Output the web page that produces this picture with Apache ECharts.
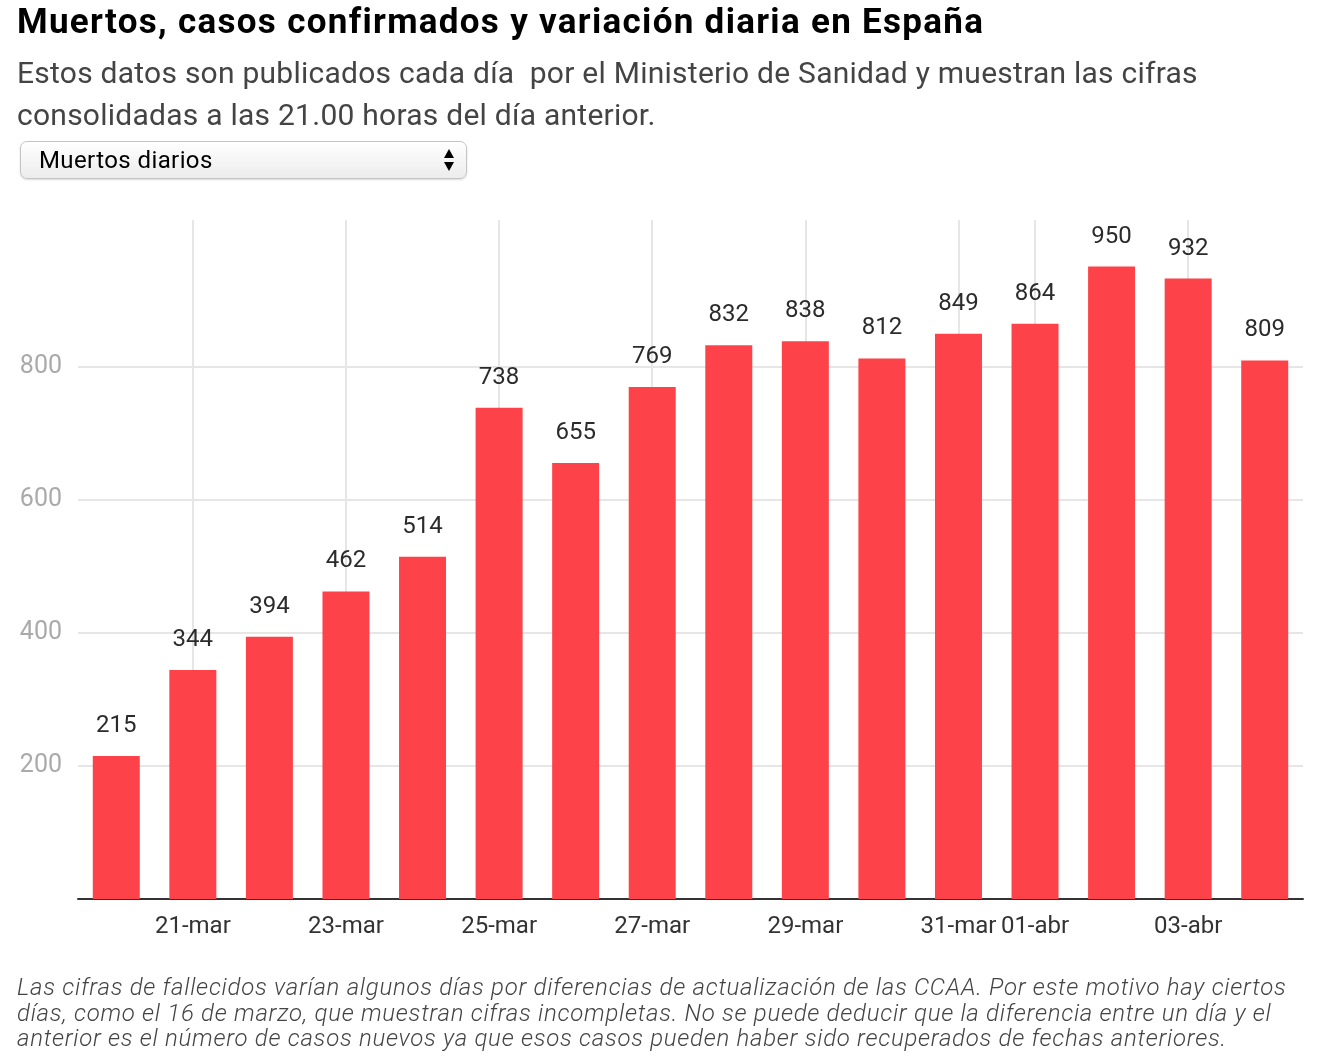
<!DOCTYPE html>
<html>
<head>
<meta charset="utf-8">
<script src="https://cdn.jsdelivr.net/npm/echarts@6/dist/echarts.min.js"></script>
<style>
  html, body { margin: 0; padding: 0; background: #fff; }
  body { width: 1320px; height: 1062px; position: relative; overflow: hidden; font-family: Roboto, "Noto Sans", sans-serif; }
  #chart { position: absolute; left: 0; top: 0; width: 1320px; height: 1062px; }
  .txt { position: absolute; left: 17px; white-space: nowrap; z-index: 2; }
  #title { top: 4px; font-size: 35px; line-height: 35px; font-weight: 700; color: #000; letter-spacing: 1.3px; }
  #subtitle { top: 52px; font-size: 30px; line-height: 42px; color: #444; font-weight: 400; letter-spacing: 0.25px; }
  #note { top: 975px; font-size: 24px; line-height: 25.5px; color: #444; font-style: italic; font-weight: 300; letter-spacing: 0.72px; }
  #select {
    position: absolute; left: 20px; top: 141px; width: 445px; height: 36px; z-index: 2;
    border: 1px solid #c4c4c4; border-radius: 7px;
    background: linear-gradient(#ffffff, #ececec);
    box-shadow: 0 1px 2px rgba(0,0,0,0.15);
  }
  #select span { position: absolute; left: 18px; top: 3px; font-size: 24px; line-height: 30px; color: #000; letter-spacing: 0.4px; }
  #select .up, #select .down { position: absolute; left: 423px; width: 0; height: 0; border-left: 5px solid transparent; border-right: 5px solid transparent; }
  #select .up { top: 7px; border-bottom: 9px solid #000; }
  #select .down { top: 20px; border-top: 9px solid #000; }
</style>
</head>
<body>
<div id="chart"></div>
<div class="txt" id="title">Muertos, casos confirmados y variación diaria en España</div>
<div class="txt" id="subtitle">Estos datos son publicados cada día&nbsp; por el Ministerio de Sanidad y muestran las cifras<br>consolidadas a las 21.00 horas del día anterior.</div>
<div id="select"><span>Muertos diarios</span><b class="up"></b><b class="down"></b></div>
<div class="txt" id="note">Las cifras de fallecidos varían algunos días por diferencias de actualización de las CCAA. Por este motivo hay ciertos<br>días, como el 16 de marzo, que muestran cifras incompletas. No se puede deducir que la diferencia entre un día y el<br>anterior es el número de casos nuevos ya que esos casos pueden haber sido recuperados de fechas anteriores.</div>
<script>
// datos
const days = ['20-mar', '21-mar', '22-mar', '23-mar', '24-mar', '25-mar', '26-mar', '27-mar',
  '28-mar', '29-mar', '30-mar', '31-mar', '01-abr', '02-abr', '03-abr', '04-abr']
const deaths = [215, 344, 394, 462, 514, 738, 655, 769, 832, 838, 812, 849, 864, 950, 932, 809]
const shownDays = ['21-mar', '23-mar', '25-mar', '27-mar', '29-mar', '31-mar', '01-abr', '03-abr']
const yTicks = [200, 400, 600, 800]

const gridColor = '#e6e6e6'

const chart = echarts.init(document.getElementById('chart'))

chart.setOption({
  animation: false,
  textStyle: { fontFamily: 'Roboto' },
  grid: { left: 78, right: 17, top: 220, bottom: 163 },
  xAxis: {
    type: 'category',
    data: days,
    axisLine: { lineStyle: { color: '#333', width: 2 } },
    axisTick: { show: false },
    splitLine: { show: false },
    axisLabel: {
      interval: (idx, val) => shownDays.includes(val),
      color: '#333',
      fontSize: 24,
      margin: 16
    }
  },
  yAxis: {
    type: 'value',
    min: 0,
    max: 1020,
    interval: 200,
    axisLine: { show: false },
    axisTick: { show: false },
    splitLine: { show: false },
    axisLabel: {
      color: '#aaa',
      fontSize: 25,
      margin: 16,
      verticalAlign: 'middle',
      padding: [4, 0, 0, 0],
      formatter: v => (yTicks.includes(v) ? String(v) : '')
    }
  },
  series: [
    {
      type: 'bar',
      data: deaths,
      barWidth: 47,
      itemStyle: { color: '#fd4349' },
      z: 2,
      label: {
        show: true,
        position: 'top',
        distance: 18,
        color: '#2b2b2b',
        fontSize: 24
      },
      markLine: {
        z: 1,
        silent: true,
        symbol: ['none', 'none'],
        label: { show: false },
        lineStyle: { color: gridColor, width: 2, type: 'solid' },
        emphasis: { disabled: true },
        data: [
          ...yTicks.map(v => ({ yAxis: v })),
          ...shownDays.map(d => ({ xAxis: d }))
        ]
      }
    }
  ]
})
</script>
</body>
</html>
